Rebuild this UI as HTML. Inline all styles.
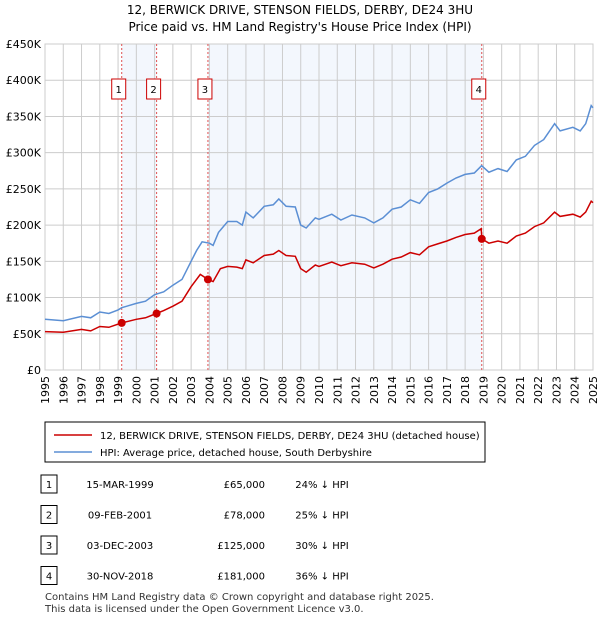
<!DOCTYPE html>
<html><head><meta charset="utf-8"><style>
body{margin:0;background:#fff;font-family:"Liberation Sans","DejaVu Sans",sans-serif;}
</style></head><body>
<svg width="600" height="620" xmlns="http://www.w3.org/2000/svg" font-family="DejaVu Sans, Liberation Sans, sans-serif">
<text x="300" y="14" text-anchor="middle" font-size="12">12, BERWICK DRIVE, STENSON FIELDS, DERBY, DE24 3HU</text>
<text x="300" y="31" text-anchor="middle" font-size="12">Price paid vs. HM Land Registry's House Price Index (HPI)</text>
<g id="plot"></g>
<g>
<rect x="45" y="422" width="440" height="40" fill="#fff" stroke="#000" stroke-width="1"/>
<line x1="54" y1="435" x2="92" y2="435" stroke="#cc0000" stroke-width="1.5"/>
<text x="100" y="439" font-size="10">12, BERWICK DRIVE, STENSON FIELDS, DERBY, DE24 3HU (detached house)</text>
<line x1="54" y1="452" x2="92" y2="452" stroke="#5b8fd4" stroke-width="1.5"/>
<text x="100" y="456" font-size="10">HPI: Average price, detached house, South Derbyshire</text>
</g>
<g id="table" font-size="10"></g>
<text x="45" y="600" font-size="10" fill="#333">Contains HM Land Registry data © Crown copyright and database right 2025.</text>
<text x="45" y="612" font-size="10" fill="#333">This data is licensed under the Open Government Licence v3.0.</text>
</svg>
<script>
const hpiYears=[1995,1996,1997,1997.5,1998,1998.5,1999,1999.2,2000,2000.5,2001,2001.5,2002,2002.5,2003,2003.3,2003.6,2004,2004.2,2004.5,2005,2005.5,2005.8,2006,2006.4,2007,2007.5,2007.8,2008.2,2008.7,2009,2009.3,2009.8,2010,2010.7,2011.2,2011.8,2012.5,2013,2013.5,2014,2014.5,2015,2015.5,2016,2016.5,2017,2017.5,2018,2018.5,2018.9,2019.3,2019.8,2020.3,2020.8,2021.3,2021.8,2022.3,2022.9,2023.2,2023.9,2024.3,2024.6,2024.9,2025];
const hpiValues=[70,68,74,72,80,78,83,86,92,95,104,108,117,125,150,165,177,175,172,190,205,205,200,218,210,226,228,236,226,225,200,196,210,208,215,207,214,210,203,210,222,225,235,230,245,250,258,265,270,272,282,273,278,274,290,295,310,318,340,330,335,330,340,365,362];
const priceYears=[1995,1996,1997,1997.5,1998,1998.5,1999.2,2000,2000.5,2001.1,2001.5,2002,2002.5,2003,2003.5,2003.92,2004.2,2004.6,2005,2005.5,2005.8,2006,2006.4,2007,2007.5,2007.8,2008.2,2008.7,2009,2009.3,2009.8,2010,2010.7,2011.2,2011.8,2012.5,2013,2013.5,2014,2014.5,2015,2015.5,2016,2016.5,2017,2017.5,2018,2018.5,2018.88,2018.92,2019.3,2019.8,2020.3,2020.8,2021.3,2021.8,2022.3,2022.9,2023.2,2023.9,2024.3,2024.6,2024.9,2025];
const priceValues=[53,52,56,54,60,59,65,70,72,78,82,88,95,115,132,125,122,140,143,142,140,152,148,158,160,165,158,157,140,135,145,143,149,144,148,146,141,146,153,156,162,159,170,174,178,183,187,189,195,181,175,178,175,185,189,198,203,218,212,215,211,218,233,231];
const saleYears=[1999.2,2001.11,2003.92,2018.91];
const saleValues=[65,78,125,181];
const saleLabels=["1","2","3","4"];
const saleDates=["15-MAR-1999","09-FEB-2001","03-DEC-2003","30-NOV-2018"];
const salePrices=["£65,000","£78,000","£125,000","£181,000"];
const saleDiffs=["24% ↓ HPI","25% ↓ HPI","30% ↓ HPI","36% ↓ HPI"];
const yTicks=[0,50,100,150,200,250,300,350,400,450];
const yTickLabels=["£0","£50K","£100K","£150K","£200K","£250K","£300K","£350K","£400K","£450K"];
const xTicks=[];for(let y=1995;y<=2025;y++)xTicks.push(y);

const X0=45,X1=593,Y0=370,Y1=44;
const xs=v=>X0+(v-1995)/30*(X1-X0);
const ys=v=>Y0-v/450*(Y0-Y1);
const NS="http://www.w3.org/2000/svg";
const plot=document.getElementById('plot');
function mk(t,a,p){const e=document.createElementNS(NS,t);for(const k in a)e.setAttribute(k,a[k]);(p||plot).appendChild(e);return e;}

const sh1=mk('rect',{x:xs(saleYears[0]),y:Y1,width:xs(saleYears[1])-xs(saleYears[0]),height:Y0-Y1,fill:'#eef3fc',opacity:0.7});


const sh2=mk('rect',{x:xs(saleYears[2]),y:Y1,width:xs(saleYears[3])-xs(saleYears[2]),height:Y0-Y1,fill:'#eef3fc',opacity:0.7});



xTicks.forEach(t=>{
 const l=mk('line',{x1:xs(t),x2:xs(t),y1:Y1,y2:Y0,stroke:'#ccc','stroke-width':1});
 
 
 const tx=mk('text',{x:0,y:0,'font-size':11,'text-anchor':'end',transform:`translate(${xs(t)+4},${Y0+6}) rotate(-90)`});
 tx.textContent=t;
 
 
});
yTicks.forEach((t,i)=>{
 const l=mk('line',{x1:X0,x2:X1,y1:ys(t),y2:ys(t),stroke:'#ccc','stroke-width':1});
 
 
 const tx=mk('text',{x:X0-4,y:ys(t)+4,'font-size':11,'text-anchor':'end'});
 tx.textContent=yTickLabels[i];
 
 
});
const border=mk('rect',{x:X0,y:Y1,width:X1-X0,height:Y0-Y1,fill:'none',stroke:'#ccc'});



saleYears.forEach((s,i)=>{
 const l=mk('line',{x1:xs(s),x2:xs(s),y1:Y1,y2:Y0,stroke:'#e05050','stroke-width':1,'stroke-dasharray':'2,2'});
 
 
 const bx=xs(s)-(i==3?3:3);
 const r=mk('rect',{x:bx-7,y:79,width:14,height:20,fill:'#fff',stroke:'#cc0000'});
 
 
 const t=mk('text',{x:bx,y:93,'font-size':10,'text-anchor':'middle'});
 t.textContent=saleLabels[i];
 
 
});

const hp=mk('path',{d:hpiYears.map((y,i)=>(i?'L':'M')+xs(y).toFixed(1)+','+ys(hpiValues[i]).toFixed(1)).join(''),fill:'none',stroke:'#5b8fd4','stroke-width':1.5});


const pp=mk('path',{d:priceYears.map((y,i)=>(i?'L':'M')+xs(y).toFixed(1)+','+ys(priceValues[i]).toFixed(1)).join(''),fill:'none',stroke:'#cc0000','stroke-width':1.5});


saleYears.forEach((s,i)=>{
 const c=mk('circle',{cx:xs(s),cy:ys(saleValues[i]),r:4,fill:'#cc0000'});
 
 
});

const tb=document.getElementById('table');
saleYears.forEach((s,i)=>{
 const y=484+i*30.5;
 const r=mk('rect',{x:41,y:y-9,width:16,height:18,fill:'#fff',stroke:'#000'},tb);
 
 
 const cells=[[49,saleLabels[i],'middle'],[120,saleDates[i],'middle'],[265,salePrices[i],'end'],[322,saleDiffs[i],'middle']];
 cells.forEach(c=>{
  const t=mk('text',{x:c[0],y:y+4,'text-anchor':c[2]},tb);
  t.textContent=c[1];
  
  
 });
});
</script>
</body></html>
